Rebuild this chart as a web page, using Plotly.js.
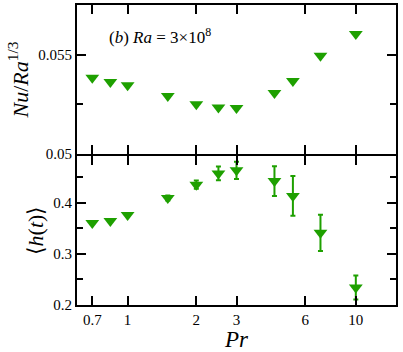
<!DOCTYPE html>
<html>
<head>
<meta charset="utf-8">
<script src="https://cdn.plot.ly/plotly-3.0.1.min.js"></script>
<style>
  html, body { margin: 0; padding: 0; background: #fff; }
</style>
</head>
<body>
<div id="plot"></div>
<script>
// Prandtl numbers
var pr = [0.7, 0.84, 1, 1.5, 2, 2.5, 3, 4.4, 5.3, 7, 10];
// top panel: Nu / Ra^(1/3)
var nuRa = [0.05384, 0.05362, 0.05346, 0.05292, 0.05251, 0.05234, 0.05231, 0.05307, 0.05367, 0.05494, 0.05604];
// bottom panel: <h(t)> and its spread
var hMean = [0.360, 0.364, 0.376, 0.409, 0.435, 0.457, 0.463, 0.442, 0.413, 0.341, 0.234];
var hErr = [0.002, 0.002, 0.002, 0.005, 0.008, 0.0135, 0.017, 0.029, 0.0387, 0.0355, 0.0235];

var xTicks = [0.7, 1, 2, 3, 6, 10];
var xTickText = ['0.7', '1', '2', '3', '6', '10'];

var green = 'rgb(30,160,0)';
var FONT = 'Liberation Serif';

var marker = { symbol: 'triangle-down', size: 12, color: green };

var traceTop = {
    x: pr,
    y: nuRa,
    xaxis: 'x2',
    yaxis: 'y2',
    mode: 'markers',
    marker: marker,
    hoverinfo: 'none'
};

var traceBottom = {
    x: pr,
    y: hMean,
    xaxis: 'x',
    yaxis: 'y',
    mode: 'markers',
    marker: marker,
    error_y: { type: 'data', array: hErr, visible: true, color: green, thickness: 2, width: 2.5 },
    hoverinfo: 'none'
};

function xAxis(extra) {
    var ax = {
        type: 'log',
        range: [Math.log10(0.6), Math.log10(15)],
        tickvals: xTicks,
        ticktext: xTickText,
        ticks: 'inside',
        ticklen: 9,
        tickwidth: 2,
        tickcolor: '#000',
        showline: true,
        linewidth: 2,
        linecolor: '#000',
        mirror: 'ticks',
        showgrid: false,
        zeroline: false,
        tickfont: { family: FONT, size: 15, color: '#000' }
    };
    for (var k in extra) ax[k] = extra[k];
    return ax;
}

// 1px gap between the panels so both frame lines land on the same row
var px = 1 / 300;

var layout = {
    width: 403,
    height: 352,
    margin: { l: 77, r: 7, t: 5, b: 47 },
    paper_bgcolor: '#fff',
    plot_bgcolor: '#fff',
    showlegend: false,
    font: { family: FONT, size: 15, color: '#000' },
    xaxis: xAxis({
        anchor: 'y',
        title: { text: '<i>Pr</i>', font: { family: FONT, size: 23, color: '#000' }, standoff: 2 }
    }),
    xaxis2: xAxis({
        anchor: 'y2',
        matches: 'x',
        showticklabels: false
    }),
    yaxis: {
        domain: [0, 0.5 - px],
        range: [0.2, 0.491],
        tickvals: [0.2, 0.3, 0.4],
        ticktext: ['0.2', '0.3', '0.4'],
        ticks: 'inside',
        ticklen: 9,
        tickwidth: 2,
        tickcolor: '#000',
        minor: { tickvals: [0.25, 0.35, 0.45], ticks: 'inside', ticklen: 6, tickwidth: 2, tickcolor: '#000', showgrid: false },
        showline: true,
        linewidth: 2,
        linecolor: '#000',
        mirror: 'ticks',
        showgrid: false,
        zeroline: false,
        anchor: 'x',
        tickfont: { family: FONT, size: 15, color: '#000' },
        title: { text: '⟨<i>h</i>(<i>t</i>)⟩', font: { family: FONT, size: 22, color: '#000' }, standoff: 4 }
    },
    yaxis2: {
        domain: [0.5 + px, 1],
        range: [0.05, 0.0575],
        tickvals: [0.05, 0.055],
        ticktext: ['0.05', '0.055'],
        ticks: 'inside',
        ticklen: 9,
        tickwidth: 2,
        tickcolor: '#000',
        minor: { tickvals: [0.0525], ticks: 'inside', ticklen: 6, tickwidth: 2, tickcolor: '#000', showgrid: false },
        showline: true,
        linewidth: 2,
        linecolor: '#000',
        mirror: 'ticks',
        showgrid: false,
        zeroline: false,
        anchor: 'x2',
        tickfont: { family: FONT, size: 15, color: '#000' },
        title: { text: '<i>Nu</i>/<i>Ra</i><sup>1/3</sup>', font: { family: FONT, size: 22, color: '#000' }, standoff: 4 }
    },
    annotations: [{
        xref: 'paper',
        yref: 'paper',
        x: 0.095,
        y: 0.895,
        xanchor: 'left',
        yanchor: 'middle',
        showarrow: false,
        text: '(<i>b</i>) <i>Ra</i> = 3×10<sup>8</sup>',
        font: { family: FONT, size: 17, color: '#000' }
    }]
};

Plotly.newPlot('plot', [traceTop, traceBottom], layout, { staticPlot: true, displayModeBar: false })
    .then(function (gd) {
        // make sure every label really ends up in the serif face
        gd.querySelectorAll('text').forEach(function (t) {
            t.style.fontFamily = '"Liberation Serif", "Times New Roman", serif';
        });
    });
</script>
</body>
</html>
